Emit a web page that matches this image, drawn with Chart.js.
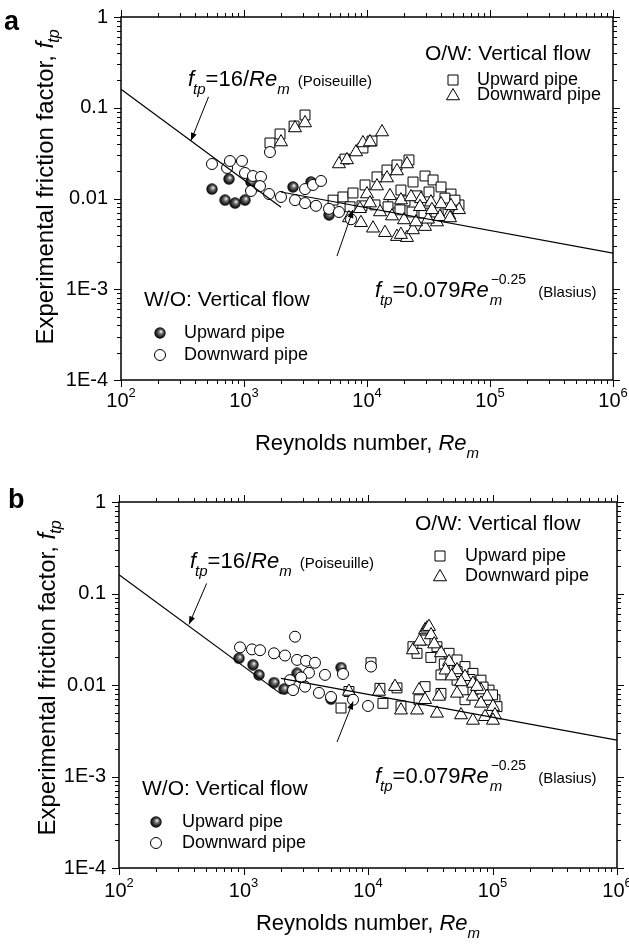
<!DOCTYPE html>
<html>
<head>
<meta charset="utf-8">
<script src="https://cdn.jsdelivr.net/npm/chart.js@4.4.1/dist/chart.umd.min.js"></script>
<style>
  html, body { margin: 0; padding: 0; background: #fff; }
  #wrap { position: relative; width: 629px; height: 947px; }
  canvas { position: absolute; left: 0; }
</style>
</head>
<body>
<div id="wrap">
  <canvas id="chartA" width="629" height="470" style="top:0"></canvas>
  <canvas id="chartB" width="629" height="477" style="top:470px"></canvas>
</div>
<script>
// axis ticks
const xTickValues = [100, 1000, 10000, 100000, 1000000];
const xTickExp = ['2', '3', '4', '5', '6'];
const yTickValues = [1, 0.1, 0.01, 0.001, 0.0001];
const yTickLabels = ['1', '0.1', '0.01', '1E-3', '1E-4'];

// correlation lines (end points)
const poiseuilleRe = [100, 2000];
const poiseuilleF = [0.16, 0.008];
const blasiusRe = [2000, 1000000];
const blasiusF = [0.0118, 0.0025];

// panel a - W/O, upward pipe (filled spheres)
const aWoUpRe = [549, 755, 701, 845, 1018, 1140, 2500, 3505, 4913];
const aWoUpF = [0.0127, 0.0164, 0.0096, 0.0089, 0.0096, 0.0152, 0.0134, 0.0152, 0.0066];
// panel a - W/O, downward pipe (open circles)
const aWoDownRe = [549, 728, 769, 963, 1019, 1183, 1374, 1140, 1349, 1597, 1999, 1626, 2600, 3134, 3640, 4228, 3134, 3847, 4913, 5920, 7413];
const aWoDownF = [0.0240, 0.0217, 0.0259, 0.0259, 0.0191, 0.0177, 0.0173, 0.0121, 0.0137, 0.0112, 0.0104, 0.0325, 0.0096, 0.0127, 0.0141, 0.0156, 0.0089, 0.0083, 0.0077, 0.0071, 0.0059];
// panel a - O/W, upward pipe (squares)
const aOwUpRe = [1626, 1963, 2553, 3134, 6620, 9270, 10980,
  5300, 6380, 7690, 9640, 12060, 14540, 17530, 21940,
  18880, 23660, 29630, 34440, 39990, 48200, 55970,
  16260, 20370, 25510, 31920, 43050, 51880,
  7280, 9100, 11610, 14820, 18540, 23220, 29040, 36390, 45600];
const aOwUpF = [0.0409, 0.0514, 0.0629, 0.0832, 0.0272, 0.0360, 0.0430,
  0.0096, 0.0104, 0.0115, 0.0141, 0.0173, 0.0206, 0.0234, 0.0266,
  0.0124, 0.0152, 0.0177, 0.0160, 0.0134, 0.0112, 0.0085,
  0.0089, 0.0094, 0.0107, 0.0118, 0.0101, 0.0096,
  0.0081, 0.0083, 0.0085, 0.0081, 0.0075, 0.0071, 0.0069, 0.0071, 0.0073];
// panel a - O/W, downward pipe (triangles)
const aOwDownRe = [2000, 2600, 3134, 5916, 6870, 8150, 9270, 10570, 13240,
  10000, 12060, 14540, 17530, 21140,
  7140, 8930, 11190, 14000, 17530, 21140,
  18880, 23660, 29630, 37070, 46450, 55970,
  18880, 22800, 27480, 33110, 39990, 48200,
  12760, 15960, 20000, 25000, 31330, 39170, 47320,
  8760, 10570, 15380, 26980, 33730];
const aOwDownF = [0.0419, 0.0598, 0.0679, 0.0240, 0.0266, 0.0325, 0.0409, 0.0419, 0.0540,
  0.0112, 0.0137, 0.0168, 0.0201, 0.0240,
  0.0061, 0.0054, 0.0047, 0.0042, 0.0038, 0.0037,
  0.0040, 0.0045, 0.0049, 0.0055, 0.0066, 0.0075,
  0.0096, 0.0104, 0.0099, 0.0091, 0.0087, 0.0083,
  0.0071, 0.0064, 0.0058, 0.0055, 0.0059, 0.0063, 0.0061,
  0.0077, 0.0089, 0.0107, 0.0081, 0.0075];

// panel b - W/O, upward pipe
const bWoUpRe = [920, 1191, 1331, 1758, 2115, 2692, 5046, 6070];
const bWoUpF = [0.0196, 0.0166, 0.0129, 0.0106, 0.0090, 0.0134, 0.0070, 0.0155];
// panel b - W/O, downward pipe
const bWoDownRe = [937, 1170, 1357, 1758, 2155, 2594, 2692, 3177, 3750, 3357, 2900, 2361, 2500, 3119, 4036, 4515, 5046, 6300, 7580, 10000, 10570];
const bWoDownF = [0.0258, 0.0245, 0.0240, 0.0222, 0.0210, 0.0337, 0.0188, 0.0184, 0.0175, 0.0136, 0.0121, 0.0113, 0.0088, 0.0096, 0.0082, 0.0129, 0.0074, 0.0132, 0.0069, 0.0059, 0.0159];
// panel b - O/W, upward pipe
const bOwUpRe = [6070, 7030, 10570, 12470, 17100, 13180, 18410,
  22960, 24760, 28710, 35810, 44770, 51880, 60120, 69660, 80840, 93760, 104700, 108700,
  38550, 28710, 25700, 51880, 69660, 93760, 60120, 38550,
  32000, 41000, 52000, 66000, 84000, 100000];
const bOwUpF = [0.0056, 0.0085, 0.0175, 0.0092, 0.0093, 0.0063, 0.0059,
  0.0262, 0.0222, 0.0310, 0.0262, 0.0222, 0.0188, 0.0159, 0.0134, 0.0113, 0.0088, 0.0069, 0.0058,
  0.0129, 0.0096, 0.0069, 0.0113, 0.0088, 0.0069, 0.0069, 0.0081,
  0.0200, 0.0170, 0.0140, 0.0115, 0.0095, 0.0078];
// panel b - O/W, downward pipe
const bOwDownRe = [7030, 12250, 16480, 18410, 24760, 25700, 35810, 37150,
  28710, 29790, 30900, 32080, 22960, 38550, 44770, 51880, 60120, 69660, 80840, 90360, 100900, 104700,
  28710, 51880, 69660, 80840, 55850, 69660, 87100, 100900,
  26000, 34000, 42000, 47000, 56000, 75000];
const bOwDownF = [0.0085, 0.0085, 0.0096, 0.0053, 0.0053, 0.0088, 0.0049, 0.0075,
  0.0399, 0.0417, 0.0434, 0.0352, 0.0241, 0.0224, 0.0180, 0.0146, 0.0123, 0.0104, 0.0088, 0.0075, 0.0058, 0.0047,
  0.0069, 0.0081, 0.0075, 0.0063, 0.0047, 0.0041, 0.0045, 0.0041,
  0.0300, 0.0280, 0.0145, 0.0125, 0.0108, 0.0096];

const FONT = '"Liberation Sans", Arial, sans-serif';

function pts(xs, ys) {
  return xs.map((v, i) => ({ x: v, y: ys[i] }));
}

function makeSphere(d) {
  const c = document.createElement('canvas');
  c.width = d; c.height = d;
  const g = c.getContext('2d');
  const r = d / 2;
  const grad = g.createRadialGradient(r * 1.2, r * 0.75, r * 0.05, r, r, r);
  grad.addColorStop(0, '#f2f2f2');
  grad.addColorStop(0.3, '#777');
  grad.addColorStop(0.7, '#222');
  grad.addColorStop(1, '#000');
  g.fillStyle = grad;
  g.beginPath();
  g.arc(r, r, r - 0.3, 0, Math.PI * 2);
  g.fill();
  return c;
}
const sphere = makeSphere(12);

// rich text: list of pieces {t, s (size), i (italic), dy, dx, nw (no advance)}
function richWidth(ctx, parts) {
  let w = 0;
  for (const p of parts) {
    ctx.font = (p.i ? 'italic ' : '') + p.s + 'px ' + FONT;
    w += (p.dx || 0);
    if (!p.nw) w += ctx.measureText(p.t).width;
  }
  return w;
}
function drawRich(ctx, x, y, parts) {
  let cx = x;
  for (const p of parts) {
    ctx.font = (p.i ? 'italic ' : '') + p.s + 'px ' + FONT;
    cx += (p.dx || 0);
    ctx.fillText(p.t, cx, y + (p.dy || 0));
    if (!p.nw) cx += ctx.measureText(p.t).width;
  }
}

function drawMarker(ctx, kind, x, y) {
  ctx.save();
  ctx.lineWidth = 1;
  ctx.strokeStyle = '#000';
  ctx.fillStyle = '#fff';
  ctx.beginPath();
  if (kind === 'sphere') {
    ctx.drawImage(sphere, x - 6, y - 6);
  } else if (kind === 'circle') {
    ctx.arc(x, y, 5.5, 0, Math.PI * 2);
    ctx.fill(); ctx.stroke();
  } else if (kind === 'rect') {
    ctx.rect(x - 5, y - 5, 10, 10);
    ctx.fill(); ctx.stroke();
  } else {
    const r = 7.5;
    ctx.moveTo(x, y - r);
    ctx.lineTo(x + r * 0.866, y + r * 0.5);
    ctx.lineTo(x - r * 0.866, y + r * 0.5);
    ctx.closePath();
    ctx.fill(); ctx.stroke();
  }
  ctx.restore();
}

function arrow(ctx, x1, y1, x2, y2) {
  ctx.beginPath();
  ctx.moveTo(x1, y1);
  ctx.lineTo(x2, y2);
  ctx.stroke();
  const a = Math.atan2(y2 - y1, x2 - x1);
  const L = 8, W = 3;
  ctx.beginPath();
  ctx.moveTo(x2, y2);
  ctx.lineTo(x2 - L * Math.cos(a) + W * Math.sin(a), y2 - L * Math.sin(a) - W * Math.cos(a));
  ctx.lineTo(x2 - L * Math.cos(a) - W * Math.sin(a), y2 - L * Math.sin(a) + W * Math.cos(a));
  ctx.closePath();
  ctx.fill();
}

function framePlugin(cfg) {
  return {
    id: 'frame' + cfg.letter,
    afterDraw(chart) {
      const ctx = chart.ctx;
      const xs = chart.scales.x, ys = chart.scales.y;
      const { left, right, top, bottom } = chart.chartArea;
      ctx.save();
      ctx.strokeStyle = '#000';
      ctx.fillStyle = '#000';

      // frame
      ctx.lineWidth = 1.5;
      ctx.strokeRect(left, top, right - left, bottom - top);

      // ticks (outward on all four sides)
      ctx.lineWidth = 1;
      ctx.beginPath();
      for (let e = 2; e <= 6; e++) {
        for (let k = 1; k <= 9; k++) {
          const v = k * Math.pow(10, e);
          if (v > 1e6) break;
          const px = Math.round(xs.getPixelForValue(v)) + 0.5;
          const len = k === 1 ? 7 : 4;
          ctx.moveTo(px, bottom); ctx.lineTo(px, bottom + len);
          ctx.moveTo(px, top); ctx.lineTo(px, top - len);
        }
      }
      for (let e = -4; e <= 0; e++) {
        for (let k = 1; k <= 9; k++) {
          const v = k * Math.pow(10, e);
          if (v > 1) break;
          const py = Math.round(ys.getPixelForValue(v)) + 0.5;
          const len = k === 1 ? 7 : 4;
          ctx.moveTo(left, py); ctx.lineTo(left - len, py);
          ctx.moveTo(right, py); ctx.lineTo(right + len, py);
        }
      }
      ctx.stroke();

      // tick labels
      ctx.textBaseline = 'alphabetic';
      xTickValues.forEach((v, i) => {
        const px = xs.getPixelForValue(v);
        const parts = [{ t: '10', s: 20 }, { t: xTickExp[i], s: 13, dy: -10 }];
        const w = richWidth(ctx, parts);
        drawRich(ctx, px - w / 2, cfg.xLabelY, parts);
      });
      ctx.textAlign = 'right';
      ctx.textBaseline = 'middle';
      ctx.font = '20px ' + FONT;
      yTickValues.forEach((v, i) => {
        ctx.fillText(yTickLabels[i], left - 13, ys.getPixelForValue(v));
      });
      ctx.textAlign = 'left';
      ctx.textBaseline = 'alphabetic';

      // axis titles
      const xt = [{ t: 'Reynolds number, ', s: 22 }, { t: 'Re', s: 22, i: 1 }, { t: 'm', s: 15, i: 1, dy: 8 }];
      drawRich(ctx, (left + right) / 2 - richWidth(ctx, xt) / 2, cfg.xTitleY, xt);
      const yt = [{ t: 'Experimental friction factor, ', s: 24 }, { t: 'f', s: 24, i: 1 }, { t: 'tp', s: 16, i: 1, dy: 9, dx: -1 }];
      ctx.save();
      ctx.translate(cfg.yTitle[0], cfg.yTitle[1]);
      ctx.rotate(-Math.PI / 2);
      ctx.textBaseline = 'middle';
      drawRich(ctx, -richWidth(ctx, yt) / 2, 0, yt);
      ctx.restore();

      // panel letter
      ctx.font = 'bold 27px ' + FONT;
      ctx.fillText(cfg.letter, cfg.letterPos[0], cfg.letterPos[1]);

      // correlation labels
      drawRich(ctx, cfg.pois[0], cfg.pois[1], [
        { t: 'f', s: 22, i: 1 }, { t: 'tp', s: 15, i: 1, dy: 8, dx: -1 },
        { t: '=16/', s: 22 }, { t: 'Re', s: 22, i: 1 }, { t: 'm', s: 15, i: 1, dy: 8 },
        { t: ' (Poiseuille)', s: 15, dx: 4 }
      ]);
      drawRich(ctx, cfg.blas[0], cfg.blas[1], [
        { t: 'f', s: 22, i: 1 }, { t: 'tp', s: 15, i: 1, dy: 8, dx: -1 },
        { t: '=0.079', s: 22 }, { t: 'Re', s: 22, i: 1 },
        { t: 'm', s: 15, i: 1, dy: 8, dx: 1, nw: 1 }, { t: '\u22120.25', s: 14, dy: -13, dx: 1 },
        { t: ' (Blasius)', s: 15, dx: 8 }
      ]);

      // arrows
      ctx.lineWidth = 1;
      for (const a of cfg.arrows) {
        arrow(ctx, xs.getPixelForValue(a[0]), ys.getPixelForValue(a[1]),
          xs.getPixelForValue(a[2]), ys.getPixelForValue(a[3]));
      }

      // legends
      ctx.font = '21px ' + FONT;
      ctx.fillText('O/W: Vertical flow', cfg.owTitle[0], cfg.owTitle[1]);
      ctx.fillText('W/O: Vertical flow', cfg.woTitle[0], cfg.woTitle[1]);
      ctx.font = '18px ' + FONT;
      ctx.textBaseline = 'middle';
      const ow = cfg.owItems, wo = cfg.woItems;
      drawMarker(ctx, 'rect', ow.mx, ow.ys[0]);
      drawMarker(ctx, 'tri', ow.mx, ow.ys[1] + 1);
      ctx.fillText('Upward pipe', ow.tx, ow.ys[0]);
      ctx.fillText('Downward pipe', ow.tx, ow.ys[1]);
      drawMarker(ctx, 'sphere', wo.mx, wo.ys[0]);
      drawMarker(ctx, 'circle', wo.mx, wo.ys[1]);
      ctx.fillText('Upward pipe', wo.tx, wo.ys[0]);
      ctx.fillText('Downward pipe', wo.tx, wo.ys[1]);
      ctx.restore();
    }
  };
}

function makeChart(id, s, pad, cfg) {
  return new Chart(document.getElementById(id), {
    type: 'scatter',
    data: {
      datasets: [
        { data: pts(poiseuilleRe, poiseuilleF), showLine: true, pointRadius: 0, borderColor: '#000', borderWidth: 1.2, order: 0 },
        { data: pts(blasiusRe, blasiusF), showLine: true, pointRadius: 0, borderColor: '#000', borderWidth: 1.2, order: 0 },
        { data: pts(s.woDownRe, s.woDownF), pointStyle: 'circle', pointRadius: 5.5, borderWidth: 1, borderColor: '#000', backgroundColor: '#fff', order: 1 },
        { data: pts(s.woUpRe, s.woUpF), pointStyle: sphere, pointRadius: 6, order: 2 },
        { data: pts(s.owDownRe, s.owDownF), pointStyle: 'triangle', pointRadius: 7.5, borderWidth: 1, borderColor: '#000', backgroundColor: '#fff', order: 3 },
        { data: pts(s.owUpRe, s.owUpF), pointStyle: 'rect', pointRadius: 7, borderWidth: 1, borderColor: '#000', backgroundColor: '#fff', order: 4 }
      ]
    },
    options: {
      responsive: false,
      animation: false,
      layout: { padding: pad },
      plugins: { legend: { display: false }, tooltip: { enabled: false } },
      scales: {
        x: { type: 'logarithmic', min: 100, max: 1000000, display: false },
        y: { type: 'logarithmic', min: 0.0001, max: 1, display: false }
      }
    },
    plugins: [framePlugin(cfg)]
  });
}

makeChart('chartA',
  { woUpRe: aWoUpRe, woUpF: aWoUpF, woDownRe: aWoDownRe, woDownF: aWoDownF,
    owUpRe: aOwUpRe, owUpF: aOwUpF, owDownRe: aOwDownRe, owDownF: aOwDownF },
  { left: 121, right: 16, top: 17, bottom: 90 },
  {
    letter: 'a', letterPos: [4, 30],
    xLabelY: 407, xTitleY: 450, yTitle: [46, 187],
    owTitle: [425, 60], owItems: { mx: 453, tx: 477, ys: [80, 95] },
    woTitle: [144, 306], woItems: { mx: 160, tx: 184, ys: [333, 355] },
    pois: [188, 86], blas: [375, 297],
    arrows: [[515, 0.132, 370, 0.0432], [5700, 0.00232, 7700, 0.0075]]
  });

makeChart('chartB',
  { woUpRe: bWoUpRe, woUpF: bWoUpF, woDownRe: bWoDownRe, woDownF: bWoDownF,
    owUpRe: bOwUpRe, owUpF: bOwUpF, owDownRe: bOwDownRe, owDownF: bOwDownF },
  { left: 119, right: 12, top: 32, bottom: 79 },
  {
    letter: 'b', letterPos: [8, 38],
    xLabelY: 427, xTitleY: 460, yTitle: [48, 208],
    owTitle: [415, 60], owItems: { mx: 440, tx: 465, ys: [86, 106] },
    woTitle: [142, 325], woItems: { mx: 156, tx: 182, ys: [352, 373] },
    pois: [190, 98], blas: [375, 313],
    arrows: [[506, 0.129, 365, 0.046], [5640, 0.00238, 7590, 0.0066]]
  });
</script>
</body>
</html>
